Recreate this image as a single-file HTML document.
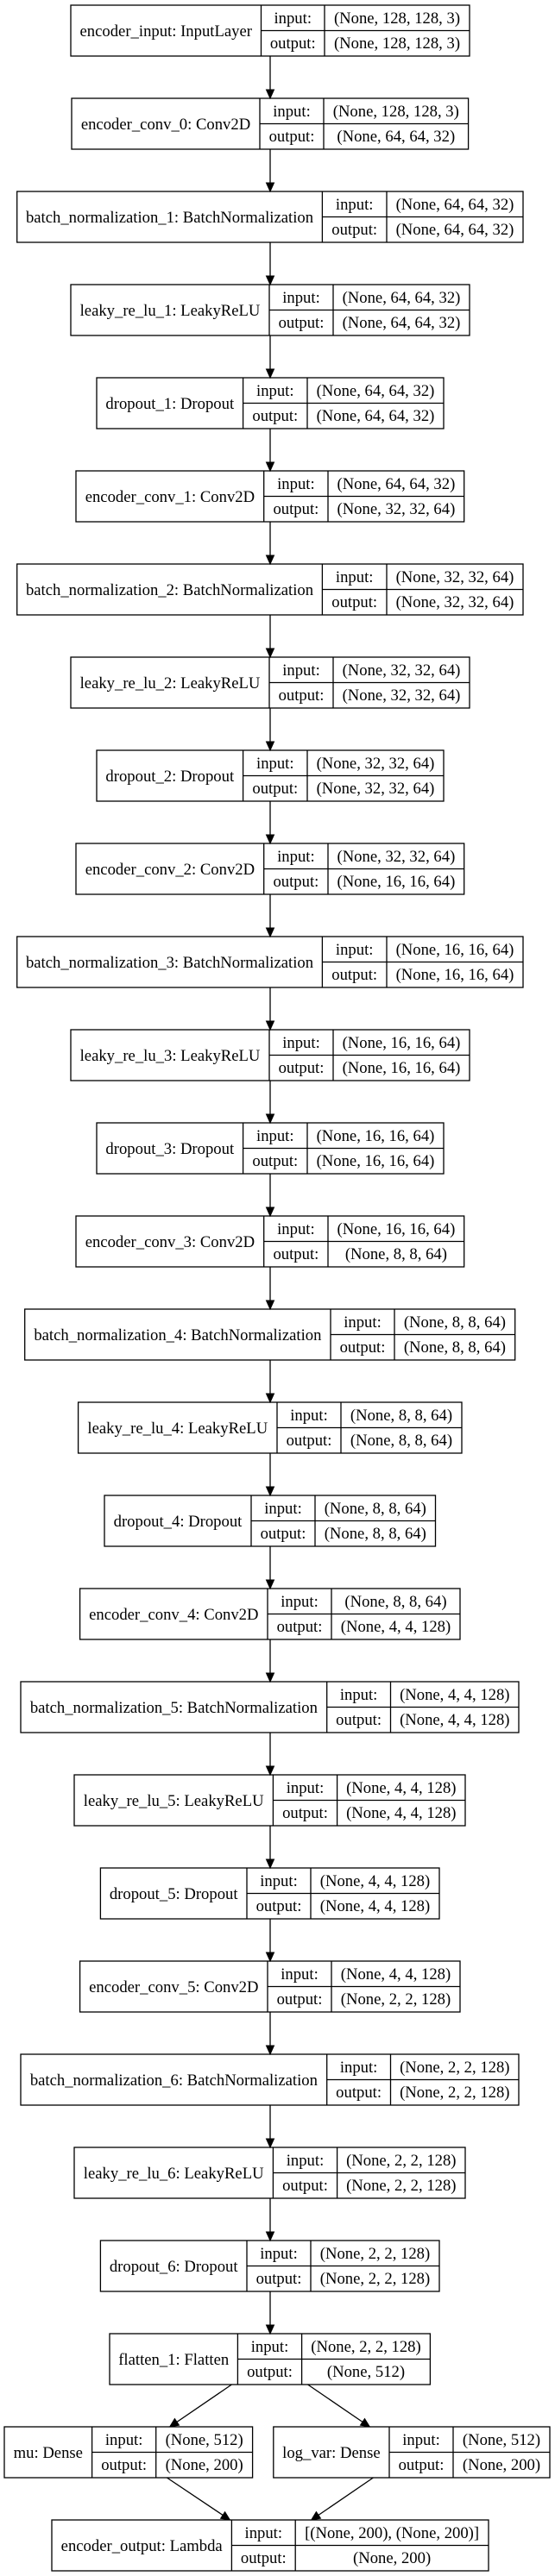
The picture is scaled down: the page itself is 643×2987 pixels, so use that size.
<!DOCTYPE html>
<html><head><meta charset="utf-8"><style>
html,body{margin:0;padding:0;background:#fff}
svg{display:block}
text{font-family:"Liberation Serif","Times New Roman",serif;font-size:18.67px;text-anchor:middle;fill:#000}
rect,line{stroke:#000;stroke-width:1.3;fill:none}
.e{stroke:#000;stroke-width:1.3}
polygon{fill:#000;stroke:#000;stroke-width:1}
</style></head><body>
<svg width="643" height="2987" viewBox="0 0 643 2987" xmlns="http://www.w3.org/2000/svg">
<defs></defs>
<!-- node 0 -->
<g transform="translate(0,6)"><rect x="82" y="0" width="462" height="59"/><line x1="302.5" y1="0" x2="302.5" y2="59"/><line x1="376" y1="0" x2="376" y2="59"/><line x1="302.5" y1="29.5" x2="544" y2="29.5"/><text x="192.25" y="36">encoder_input: InputLayer</text><text x="339.25" y="21">input:</text><text x="339.25" y="50">output:</text><text x="460" y="21">(None, 128, 128, 3)</text><text x="460" y="50">(None, 128, 128, 3)</text></g>
<!-- node 1 -->
<g transform="translate(0,114)"><rect x="83" y="0" width="459.6" height="59"/><line x1="301" y1="0" x2="301" y2="59"/><line x1="375" y1="0" x2="375" y2="59"/><line x1="301" y1="29.5" x2="542.6" y2="29.5"/><text x="192" y="36">encoder_conv_0: Conv2D</text><text x="338" y="21">input:</text><text x="338" y="50">output:</text><text x="458.8" y="21">(None, 128, 128, 3)</text><text x="458.8" y="50">(None, 64, 64, 32)</text></g>
<!-- node 2 bn1 -->
<g transform="translate(0,222)"><rect x="19.7" y="0" width="586.3" height="59"/><line x1="373.4" y1="0" x2="373.4" y2="59"/><line x1="448" y1="0" x2="448" y2="59"/><line x1="373.4" y1="29.5" x2="606" y2="29.5"/><text x="196.5" y="36">batch_normalization_1: BatchNormalization</text><text x="410.7" y="21">input:</text><text x="410.7" y="50">output:</text><text x="527" y="21">(None, 64, 64, 32)</text><text x="527" y="50">(None, 64, 64, 32)</text></g>
<!-- node 3 lr1 -->
<g transform="translate(0,330)"><rect x="82" y="0" width="462" height="59"/><line x1="312" y1="0" x2="312" y2="59"/><line x1="386" y1="0" x2="386" y2="59"/><line x1="312" y1="29.5" x2="544" y2="29.5"/><text x="197" y="36">leaky_re_lu_1: LeakyReLU</text><text x="349" y="21">input:</text><text x="349" y="50">output:</text><text x="465" y="21">(None, 64, 64, 32)</text><text x="465" y="50">(None, 64, 64, 32)</text></g>
<!-- node 4 do1 -->
<g transform="translate(0,438)"><rect x="112" y="0" width="402" height="59"/><line x1="281.6" y1="0" x2="281.6" y2="59"/><line x1="356" y1="0" x2="356" y2="59"/><line x1="281.6" y1="29.5" x2="514" y2="29.5"/><text x="196.8" y="36">dropout_1: Dropout</text><text x="318.8" y="21">input:</text><text x="318.8" y="50">output:</text><text x="435" y="21">(None, 64, 64, 32)</text><text x="435" y="50">(None, 64, 64, 32)</text></g>
<!-- node 5 conv1 -->
<g transform="translate(0,546)"><rect x="88" y="0" width="449.7" height="59"/><line x1="305.7" y1="0" x2="305.7" y2="59"/><line x1="380" y1="0" x2="380" y2="59"/><line x1="305.7" y1="29.5" x2="537.7" y2="29.5"/><text x="196.9" y="36">encoder_conv_1: Conv2D</text><text x="342.9" y="21">input:</text><text x="342.9" y="50">output:</text><text x="458.9" y="21">(None, 64, 64, 32)</text><text x="458.9" y="50">(None, 32, 32, 64)</text></g>
<!-- node 6 bn2 -->
<g transform="translate(0,654)"><rect x="19.7" y="0" width="586.3" height="59"/><line x1="373.4" y1="0" x2="373.4" y2="59"/><line x1="448" y1="0" x2="448" y2="59"/><line x1="373.4" y1="29.5" x2="606" y2="29.5"/><text x="196.5" y="36">batch_normalization_2: BatchNormalization</text><text x="410.7" y="21">input:</text><text x="410.7" y="50">output:</text><text x="527" y="21">(None, 32, 32, 64)</text><text x="527" y="50">(None, 32, 32, 64)</text></g>
<!-- node 7 lr2 -->
<g transform="translate(0,762)"><rect x="82" y="0" width="462" height="59"/><line x1="312" y1="0" x2="312" y2="59"/><line x1="386" y1="0" x2="386" y2="59"/><line x1="312" y1="29.5" x2="544" y2="29.5"/><text x="197" y="36">leaky_re_lu_2: LeakyReLU</text><text x="349" y="21">input:</text><text x="349" y="50">output:</text><text x="465" y="21">(None, 32, 32, 64)</text><text x="465" y="50">(None, 32, 32, 64)</text></g>
<!-- node 8 do2 -->
<g transform="translate(0,870)"><rect x="112" y="0" width="402" height="59"/><line x1="281.6" y1="0" x2="281.6" y2="59"/><line x1="356" y1="0" x2="356" y2="59"/><line x1="281.6" y1="29.5" x2="514" y2="29.5"/><text x="196.8" y="36">dropout_2: Dropout</text><text x="318.8" y="21">input:</text><text x="318.8" y="50">output:</text><text x="435" y="21">(None, 32, 32, 64)</text><text x="435" y="50">(None, 32, 32, 64)</text></g>
<!-- node 9 conv2 -->
<g transform="translate(0,978)"><rect x="88" y="0" width="449.7" height="59"/><line x1="305.7" y1="0" x2="305.7" y2="59"/><line x1="380" y1="0" x2="380" y2="59"/><line x1="305.7" y1="29.5" x2="537.7" y2="29.5"/><text x="196.9" y="36">encoder_conv_2: Conv2D</text><text x="342.9" y="21">input:</text><text x="342.9" y="50">output:</text><text x="458.9" y="21">(None, 32, 32, 64)</text><text x="458.9" y="50">(None, 16, 16, 64)</text></g>
<!-- node 10 bn3 -->
<g transform="translate(0,1086)"><rect x="19.7" y="0" width="586.3" height="59"/><line x1="373.4" y1="0" x2="373.4" y2="59"/><line x1="448" y1="0" x2="448" y2="59"/><line x1="373.4" y1="29.5" x2="606" y2="29.5"/><text x="196.5" y="36">batch_normalization_3: BatchNormalization</text><text x="410.7" y="21">input:</text><text x="410.7" y="50">output:</text><text x="527" y="21">(None, 16, 16, 64)</text><text x="527" y="50">(None, 16, 16, 64)</text></g>
<!-- node 11 lr3 -->
<g transform="translate(0,1194)"><rect x="82" y="0" width="462" height="59"/><line x1="312" y1="0" x2="312" y2="59"/><line x1="386" y1="0" x2="386" y2="59"/><line x1="312" y1="29.5" x2="544" y2="29.5"/><text x="197" y="36">leaky_re_lu_3: LeakyReLU</text><text x="349" y="21">input:</text><text x="349" y="50">output:</text><text x="465" y="21">(None, 16, 16, 64)</text><text x="465" y="50">(None, 16, 16, 64)</text></g>
<!-- node 12 do3 -->
<g transform="translate(0,1302)"><rect x="112" y="0" width="402" height="59"/><line x1="281.6" y1="0" x2="281.6" y2="59"/><line x1="356" y1="0" x2="356" y2="59"/><line x1="281.6" y1="29.5" x2="514" y2="29.5"/><text x="196.8" y="36">dropout_3: Dropout</text><text x="318.8" y="21">input:</text><text x="318.8" y="50">output:</text><text x="435" y="21">(None, 16, 16, 64)</text><text x="435" y="50">(None, 16, 16, 64)</text></g>
<!-- node 13 conv3 -->
<g transform="translate(0,1410)"><rect x="88" y="0" width="449.7" height="59"/><line x1="305.7" y1="0" x2="305.7" y2="59"/><line x1="380" y1="0" x2="380" y2="59"/><line x1="305.7" y1="29.5" x2="537.7" y2="29.5"/><text x="196.9" y="36">encoder_conv_3: Conv2D</text><text x="342.9" y="21">input:</text><text x="342.9" y="50">output:</text><text x="458.9" y="21">(None, 16, 16, 64)</text><text x="458.9" y="50">(None, 8, 8, 64)</text></g>
<!-- node 14 bn4 -->
<g transform="translate(0,1518)"><rect x="28.7" y="0" width="568" height="59"/><line x1="383" y1="0" x2="383" y2="59"/><line x1="457" y1="0" x2="457" y2="59"/><line x1="383" y1="29.5" x2="596.7" y2="29.5"/><text x="205.9" y="36">batch_normalization_4: BatchNormalization</text><text x="420" y="21">input:</text><text x="420" y="50">output:</text><text x="526.9" y="21">(None, 8, 8, 64)</text><text x="526.9" y="50">(None, 8, 8, 64)</text></g>
<!-- node 15 lr4 -->
<g transform="translate(0,1626)"><rect x="90.6" y="0" width="444.4" height="59"/><line x1="321" y1="0" x2="321" y2="59"/><line x1="395" y1="0" x2="395" y2="59"/><line x1="321" y1="29.5" x2="535" y2="29.5"/><text x="205.8" y="36">leaky_re_lu_4: LeakyReLU</text><text x="358" y="21">input:</text><text x="358" y="50">output:</text><text x="465" y="21">(None, 8, 8, 64)</text><text x="465" y="50">(None, 8, 8, 64)</text></g>
<!-- node 16 do4 -->
<g transform="translate(0,1734)"><rect x="121" y="0" width="383.5" height="59"/><line x1="291" y1="0" x2="291" y2="59"/><line x1="365" y1="0" x2="365" y2="59"/><line x1="291" y1="29.5" x2="504.5" y2="29.5"/><text x="206" y="36">dropout_4: Dropout</text><text x="328" y="21">input:</text><text x="328" y="50">output:</text><text x="434.8" y="21">(None, 8, 8, 64)</text><text x="434.8" y="50">(None, 8, 8, 64)</text></g>
<!-- node 17 conv4 -->
<g transform="translate(0,1842)"><rect x="92.6" y="0" width="440.4" height="59"/><line x1="310" y1="0" x2="310" y2="59"/><line x1="384" y1="0" x2="384" y2="59"/><line x1="310" y1="29.5" x2="533" y2="29.5"/><text x="201.3" y="36">encoder_conv_4: Conv2D</text><text x="347" y="21">input:</text><text x="347" y="50">output:</text><text x="458.5" y="21">(None, 8, 8, 64)</text><text x="458.5" y="50">(None, 4, 4, 128)</text></g>
<!-- node 18 bn5 -->
<g transform="translate(0,1950)"><rect x="24" y="0" width="577" height="59"/><line x1="378.7" y1="0" x2="378.7" y2="59"/><line x1="452.5" y1="0" x2="452.5" y2="59"/><line x1="378.7" y1="29.5" x2="601" y2="29.5"/><text x="201.4" y="36">batch_normalization_5: BatchNormalization</text><text x="415.6" y="21">input:</text><text x="415.6" y="50">output:</text><text x="526.8" y="21">(None, 4, 4, 128)</text><text x="526.8" y="50">(None, 4, 4, 128)</text></g>
<!-- node 19 lr5 -->
<g transform="translate(0,2058)"><rect x="86" y="0" width="453" height="59"/><line x1="316.4" y1="0" x2="316.4" y2="59"/><line x1="390.6" y1="0" x2="390.6" y2="59"/><line x1="316.4" y1="29.5" x2="539" y2="29.5"/><text x="201.2" y="36">leaky_re_lu_5: LeakyReLU</text><text x="353.5" y="21">input:</text><text x="353.5" y="50">output:</text><text x="464.8" y="21">(None, 4, 4, 128)</text><text x="464.8" y="50">(None, 4, 4, 128)</text></g>
<!-- node 20 do5 -->
<g transform="translate(0,2166)"><rect x="116.4" y="0" width="392.6" height="59"/><line x1="286" y1="0" x2="286" y2="59"/><line x1="360" y1="0" x2="360" y2="59"/><line x1="286" y1="29.5" x2="509" y2="29.5"/><text x="201.2" y="36">dropout_5: Dropout</text><text x="323" y="21">input:</text><text x="323" y="50">output:</text><text x="434.5" y="21">(None, 4, 4, 128)</text><text x="434.5" y="50">(None, 4, 4, 128)</text></g>
<!-- node 21 conv5 -->
<g transform="translate(0,2274)"><rect x="92.6" y="0" width="440.4" height="59"/><line x1="310" y1="0" x2="310" y2="59"/><line x1="384" y1="0" x2="384" y2="59"/><line x1="310" y1="29.5" x2="533" y2="29.5"/><text x="201.3" y="36">encoder_conv_5: Conv2D</text><text x="347" y="21">input:</text><text x="347" y="50">output:</text><text x="458.5" y="21">(None, 4, 4, 128)</text><text x="458.5" y="50">(None, 2, 2, 128)</text></g>
<!-- node 22 bn6 -->
<g transform="translate(0,2382)"><rect x="24" y="0" width="577" height="59"/><line x1="378.7" y1="0" x2="378.7" y2="59"/><line x1="452.5" y1="0" x2="452.5" y2="59"/><line x1="378.7" y1="29.5" x2="601" y2="29.5"/><text x="201.4" y="36">batch_normalization_6: BatchNormalization</text><text x="415.6" y="21">input:</text><text x="415.6" y="50">output:</text><text x="526.8" y="21">(None, 2, 2, 128)</text><text x="526.8" y="50">(None, 2, 2, 128)</text></g>
<!-- node 23 lr6 -->
<g transform="translate(0,2490)"><rect x="86" y="0" width="453" height="59"/><line x1="316.4" y1="0" x2="316.4" y2="59"/><line x1="390.6" y1="0" x2="390.6" y2="59"/><line x1="316.4" y1="29.5" x2="539" y2="29.5"/><text x="201.2" y="36">leaky_re_lu_6: LeakyReLU</text><text x="353.5" y="21">input:</text><text x="353.5" y="50">output:</text><text x="464.8" y="21">(None, 2, 2, 128)</text><text x="464.8" y="50">(None, 2, 2, 128)</text></g>
<!-- node 24 do6 -->
<g transform="translate(0,2598)"><rect x="116.4" y="0" width="392.6" height="59"/><line x1="286" y1="0" x2="286" y2="59"/><line x1="360" y1="0" x2="360" y2="59"/><line x1="286" y1="29.5" x2="509" y2="29.5"/><text x="201.2" y="36">dropout_6: Dropout</text><text x="323" y="21">input:</text><text x="323" y="50">output:</text><text x="434.5" y="21">(None, 2, 2, 128)</text><text x="434.5" y="50">(None, 2, 2, 128)</text></g>
<!-- node 25 flatten -->
<g transform="translate(0,2706)"><rect x="127" y="0" width="371.4" height="59"/><line x1="275.4" y1="0" x2="275.4" y2="59"/><line x1="349.6" y1="0" x2="349.6" y2="59"/><line x1="275.4" y1="29.5" x2="498.4" y2="29.5"/><text x="201.2" y="36">flatten_1: Flatten</text><text x="312.5" y="21">input:</text><text x="312.5" y="50">output:</text><text x="424" y="21">(None, 2, 2, 128)</text><text x="424" y="50">(None, 512)</text></g>
<!-- node 26 mu / log_var -->
<g transform="translate(0,2814)"><rect x="5" y="0" width="287.6" height="59"/><line x1="106.6" y1="0" x2="106.6" y2="59"/><line x1="180.7" y1="0" x2="180.7" y2="59"/><line x1="106.6" y1="29.5" x2="292.6" y2="29.5"/><text x="55.8" y="36">mu: Dense</text><text x="143.65" y="21">input:</text><text x="143.65" y="50">output:</text><text x="236.65" y="21">(None, 512)</text><text x="236.65" y="50">(None, 200)</text>
<rect x="316.8" y="0" width="320.2" height="59"/><line x1="451" y1="0" x2="451" y2="59"/><line x1="525" y1="0" x2="525" y2="59"/><line x1="451" y1="29.5" x2="637" y2="29.5"/><text x="383.9" y="36">log_var: Dense</text><text x="488" y="21">input:</text><text x="488" y="50">output:</text><text x="581" y="21">(None, 512)</text><text x="581" y="50">(None, 200)</text></g>
<!-- node 27 output -->
<g transform="translate(0,2922)"><rect x="60" y="0" width="506" height="59"/><line x1="268.4" y1="0" x2="268.4" y2="59"/><line x1="342.2" y1="0" x2="342.2" y2="59"/><line x1="268.4" y1="29.5" x2="566" y2="29.5"/><text x="164.2" y="36">encoder_output: Lambda</text><text x="305.3" y="21">input:</text><text x="305.3" y="50">output:</text><text x="454.1" y="21">[(None, 200), (None, 200)]</text><text x="454.1" y="50">(None, 200)</text></g>

<!-- vertical arrows -->
<g id="arr">
<g transform="translate(0,6)"><line class="e" x1="313" y1="59" x2="313" y2="98"/><polygon points="313,108 308.5,98 317.5,98"/></g>
<g transform="translate(0,114)"><line class="e" x1="313" y1="59" x2="313" y2="98"/><polygon points="313,108 308.5,98 317.5,98"/></g>
<g transform="translate(0,222)"><line class="e" x1="313" y1="59" x2="313" y2="98"/><polygon points="313,108 308.5,98 317.5,98"/></g>
<g transform="translate(0,330)"><line class="e" x1="313" y1="59" x2="313" y2="98"/><polygon points="313,108 308.5,98 317.5,98"/></g>
<g transform="translate(0,438)"><line class="e" x1="313" y1="59" x2="313" y2="98"/><polygon points="313,108 308.5,98 317.5,98"/></g>
<g transform="translate(0,546)"><line class="e" x1="313" y1="59" x2="313" y2="98"/><polygon points="313,108 308.5,98 317.5,98"/></g>
<g transform="translate(0,654)"><line class="e" x1="313" y1="59" x2="313" y2="98"/><polygon points="313,108 308.5,98 317.5,98"/></g>
<g transform="translate(0,762)"><line class="e" x1="313" y1="59" x2="313" y2="98"/><polygon points="313,108 308.5,98 317.5,98"/></g>
<g transform="translate(0,870)"><line class="e" x1="313" y1="59" x2="313" y2="98"/><polygon points="313,108 308.5,98 317.5,98"/></g>
<g transform="translate(0,978)"><line class="e" x1="313" y1="59" x2="313" y2="98"/><polygon points="313,108 308.5,98 317.5,98"/></g>
<g transform="translate(0,1086)"><line class="e" x1="313" y1="59" x2="313" y2="98"/><polygon points="313,108 308.5,98 317.5,98"/></g>
<g transform="translate(0,1194)"><line class="e" x1="313" y1="59" x2="313" y2="98"/><polygon points="313,108 308.5,98 317.5,98"/></g>
<g transform="translate(0,1302)"><line class="e" x1="313" y1="59" x2="313" y2="98"/><polygon points="313,108 308.5,98 317.5,98"/></g>
<g transform="translate(0,1410)"><line class="e" x1="313" y1="59" x2="313" y2="98"/><polygon points="313,108 308.5,98 317.5,98"/></g>
<g transform="translate(0,1518)"><line class="e" x1="313" y1="59" x2="313" y2="98"/><polygon points="313,108 308.5,98 317.5,98"/></g>
<g transform="translate(0,1626)"><line class="e" x1="313" y1="59" x2="313" y2="98"/><polygon points="313,108 308.5,98 317.5,98"/></g>
<g transform="translate(0,1734)"><line class="e" x1="313" y1="59" x2="313" y2="98"/><polygon points="313,108 308.5,98 317.5,98"/></g>
<g transform="translate(0,1842)"><line class="e" x1="313" y1="59" x2="313" y2="98"/><polygon points="313,108 308.5,98 317.5,98"/></g>
<g transform="translate(0,1950)"><line class="e" x1="313" y1="59" x2="313" y2="98"/><polygon points="313,108 308.5,98 317.5,98"/></g>
<g transform="translate(0,2058)"><line class="e" x1="313" y1="59" x2="313" y2="98"/><polygon points="313,108 308.5,98 317.5,98"/></g>
<g transform="translate(0,2166)"><line class="e" x1="313" y1="59" x2="313" y2="98"/><polygon points="313,108 308.5,98 317.5,98"/></g>
<g transform="translate(0,2274)"><line class="e" x1="313" y1="59" x2="313" y2="98"/><polygon points="313,108 308.5,98 317.5,98"/></g>
<g transform="translate(0,2382)"><line class="e" x1="313" y1="59" x2="313" y2="98"/><polygon points="313,108 308.5,98 317.5,98"/></g>
<g transform="translate(0,2490)"><line class="e" x1="313" y1="59" x2="313" y2="98"/><polygon points="313,108 308.5,98 317.5,98"/></g>
<g transform="translate(0,2598)"><line class="e" x1="313" y1="59" x2="313" y2="98"/><polygon points="313,108 308.5,98 317.5,98"/></g>
</g>
<!-- diagonal arrows -->
<line class="e" x1="268.4" y1="2765" x2="205" y2="2808.4"/><polygon points="196.7,2814 207.5,2812.1 202.4,2804.6"/>
<line class="e" x1="356.6" y1="2765" x2="420" y2="2808.4"/><polygon points="428.3,2814 417.5,2812.1 422.5,2804.6"/>
<line class="e" x1="193.4" y1="2873" x2="258.1" y2="2916.4"/><polygon points="266.4,2922 255.6,2920.2 260.6,2912.7"/>
<line class="e" x1="432.4" y1="2873" x2="369" y2="2916.4"/><polygon points="360.7,2922 371.5,2920.1 366.4,2912.6"/>
</svg>
</body></html>
